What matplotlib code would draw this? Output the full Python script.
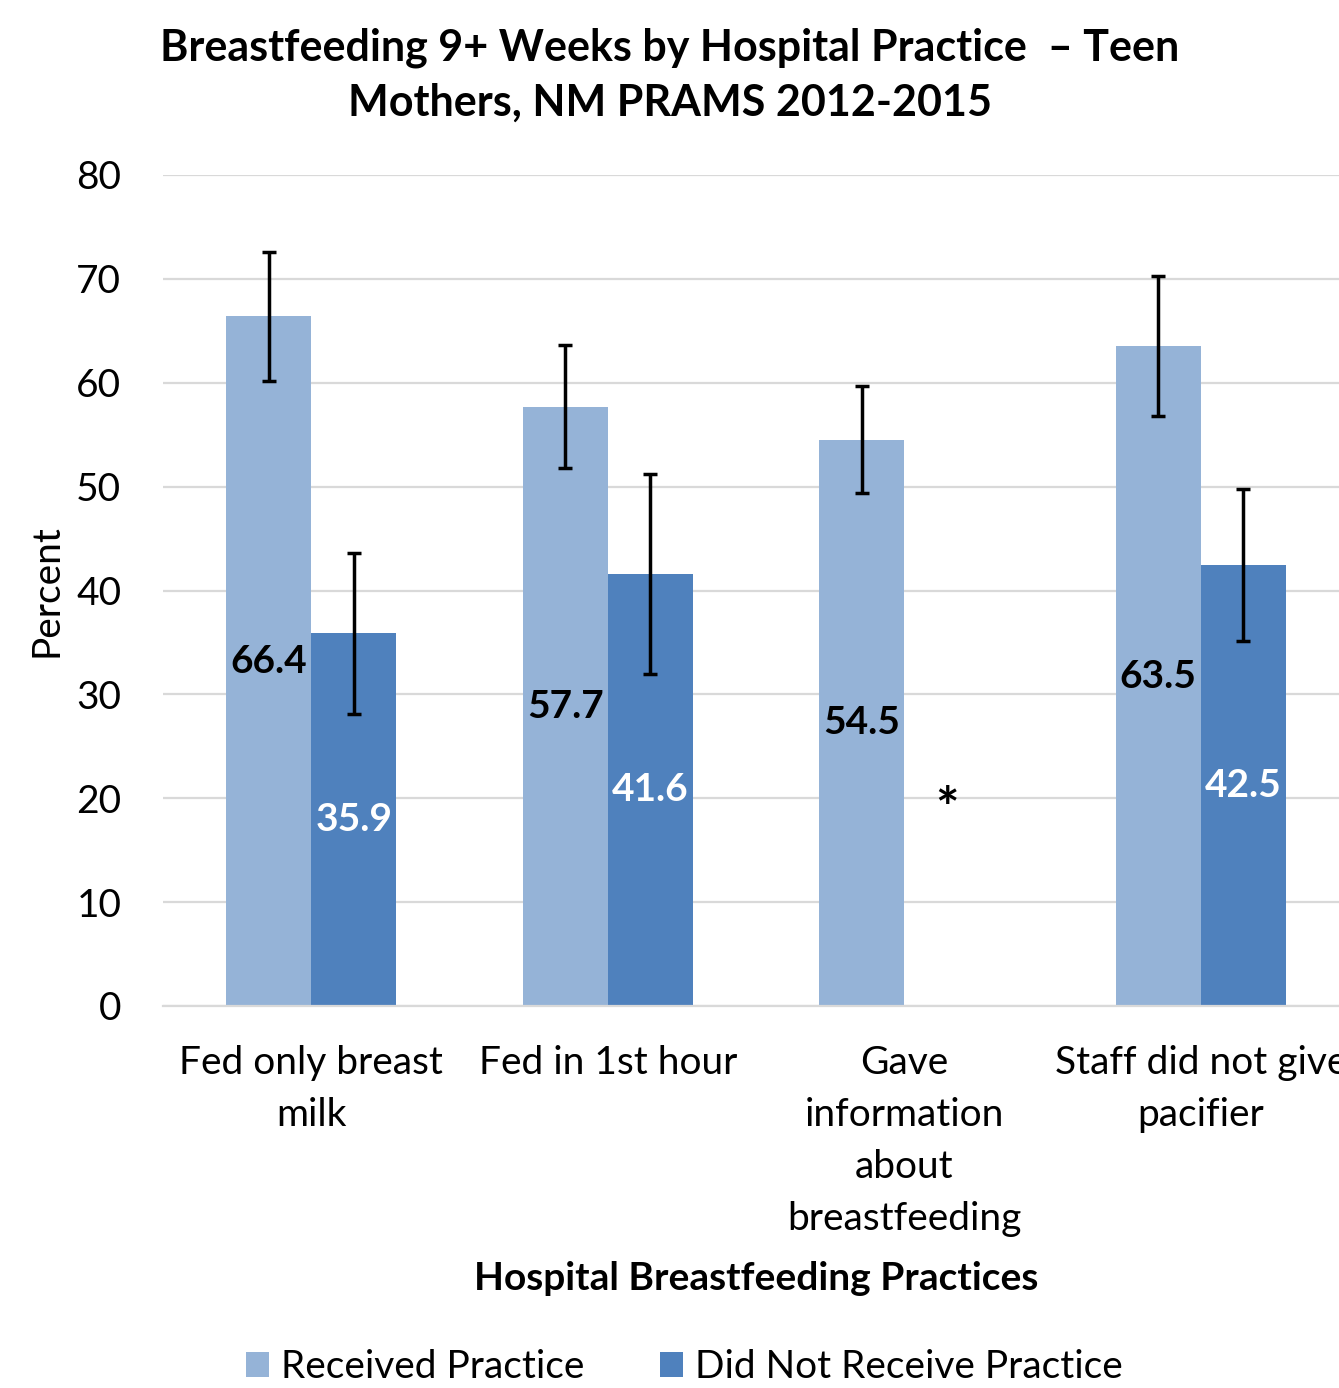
import numpy as np
import matplotlib.pyplot as plt

categories = ["Fed only breast\nmilk", "Fed in 1st hour",
              "Gave\ninformation\nabout\nbreastfeeding",
              "Staff did not give\npacifier"]
received = [66.4, 57.7, 54.5, 63.5]
received_lo = [60.2, 51.8, 49.4, 56.8]
received_hi = [72.6, 63.6, 59.7, 70.3]
not_received = [35.9, 41.6, np.nan, 42.5]
not_received_lo = [28.1, 32.0, np.nan, 35.1]
not_received_hi = [43.6, 51.2, np.nan, 49.8]
suppressed_mark = 18.8

plt.rcParams['font.family'] = ['Lato', 'DejaVu Sans']

fig = plt.figure(figsize=(13.39, 13.88), dpi=100)
ax = fig.add_axes([163 / 1339, 1 - 1006 / 1388, (1349 - 163) / 1339, (1006 - 175) / 1388])

x = np.arange(len(categories))
w = 0.287
c_rec = "#95B3D7"
c_not = "#4F81BD"

rec = np.array(received)
nrec = np.array(not_received)
rec_err = [rec - np.array(received_lo), np.array(received_hi) - rec]
nrec_err = [nrec - np.array(not_received_lo), np.array(not_received_hi) - nrec]

ax.bar(x - w / 2, rec, w, color=c_rec, label="Received Practice", zorder=2)
ax.bar(x + w / 2, np.nan_to_num(nrec), w, color=c_not, label="Did Not Receive Practice", zorder=2)
ax.errorbar(x - w / 2, rec, yerr=rec_err, fmt="none", ecolor="black",
            elinewidth=2.5, capsize=5, capthick=2.5, zorder=3)
ax.errorbar(x + w / 2, nrec, yerr=nrec_err, fmt="none", ecolor="black",
            elinewidth=2.5, capsize=5, capthick=2.5, zorder=3)

for i in range(len(categories)):
    ax.text(x[i] - w / 2, rec[i] / 2, f"{rec[i]:.1f}", ha="center", va="center",
            fontsize=28, fontweight="bold", color="black", zorder=4)
    if np.isnan(nrec[i]):
        ax.text(x[i] + w / 2, suppressed_mark, "*", ha="center", va="center",
                fontsize=40, fontweight="bold", color="black", zorder=4)
    else:
        ax.text(x[i] + w / 2, nrec[i] / 2, f"{nrec[i]:.1f}", ha="center", va="center",
                fontsize=28, fontweight="bold", color="white", zorder=4)

ax.set_xlim(-0.5, 3.5)
ax.set_ylim(0, 80)
ax.set_yticks(range(0, 81, 10))
ax.set_xticks(x)
ax.set_xticklabels(categories, fontsize=28, linespacing=1.55)
ax.tick_params(axis="both", length=0, labelsize=28)
ax.tick_params(axis="x", pad=28)
ax.tick_params(axis="y", pad=30)
ax.grid(axis="y", color="#D9D9D9", linewidth=1.6, zorder=0)
ax.set_axisbelow(True)
for s in ["top", "right", "left"]:
    ax.spines[s].set_visible(False)
ax.spines["bottom"].set_color("#D9D9D9")
ax.spines["bottom"].set_linewidth(1.6)

ax.set_ylabel("Percent", fontsize=28)
ax.yaxis.set_label_coords(-0.083, 0.5)

fig.text(0.5, 0.98, "Breastfeeding 9+ Weeks by Hospital Practice  \u2013 Teen\nMothers, NM PRAMS 2012-2015",
         ha="center", va="top", fontsize=31, fontweight="bold", linespacing=1.45)
fig.text(0.565, 1 - 1278 / 1388, "Hospital Breastfeeding Practices", ha="center", va="center",
         fontsize=28, fontweight="bold")

fig.legend(loc="center", bbox_to_anchor=(0.511, 1 - 1367 / 1388), ncol=2, frameon=False,
           fontsize=28, handlelength=0.6, handleheight=0.6, handletextpad=0.3, columnspacing=1.95)

fig.savefig("out.png", dpi=100)
